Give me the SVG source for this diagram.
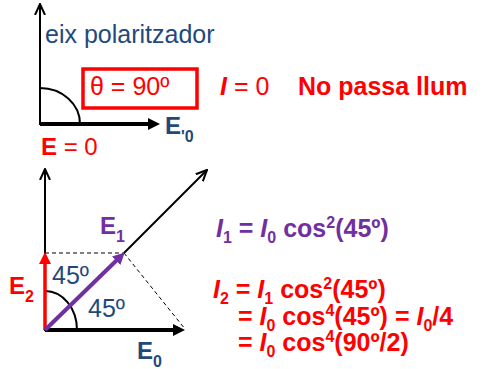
<svg xmlns="http://www.w3.org/2000/svg" width="493" height="369" viewBox="0 0 493 369">
<style>
text{font-family:"Liberation Sans",Arial,sans-serif;font-size:24px}
.blue{fill:#1F497D}
.red{fill:#FF0000}
.pur{fill:#7030A0}
.b{font-weight:bold}
.bi{font-weight:bold;font-style:italic}
.sub{font-size:16px}
.eq{font-size:25px;font-weight:bold}
.ax{stroke:#000;stroke-width:2;fill:none}
.dash{stroke:#000;stroke-width:1;stroke-dasharray:4 3;fill:none}
</style>
<defs>
<marker id="open" viewBox="0 0 12 12" refX="11" refY="6" markerWidth="12" markerHeight="12" markerUnits="userSpaceOnUse" orient="auto">
<path d="M0,1 L11,6 L0,11" fill="none" stroke="#000" stroke-width="2"/>
</marker>
<marker id="blk" viewBox="0 0 12 12" refX="4" refY="6" markerWidth="12" markerHeight="12" markerUnits="userSpaceOnUse" orient="auto">
<path d="M0,0 L12,6 L0,12 z" fill="#000"/>
</marker>
<marker id="redh" viewBox="0 0 12 12" refX="4" refY="6" markerWidth="12" markerHeight="12" markerUnits="userSpaceOnUse" orient="auto">
<path d="M0,0 L12,6 L0,12 z" fill="#FF0000"/>
</marker>
<marker id="purh" viewBox="0 0 12 12" refX="4" refY="6" markerWidth="12" markerHeight="12" markerUnits="userSpaceOnUse" orient="auto">
<path d="M0,0 L12,6 L0,12 z" fill="#7030A0"/>
</marker>
</defs>
<g id="connectors">
<line class="ax" x1="40" y1="125" x2="40" y2="4" marker-end="url(#open)"/>
<path class="ax" stroke-width="1.2" d="M40,88 A40,36 0 0 1 80,124"/>
<line x1="40" y1="124" x2="152" y2="124" stroke="#000" stroke-width="4" marker-end="url(#blk)"/>
<line class="ax" x1="45" y1="331" x2="45" y2="169" marker-end="url(#open)"/>
<line class="ax" x1="124" y1="253" x2="207" y2="170" marker-end="url(#open)"/>
<line class="dash" x1="45" y1="253" x2="124" y2="253"/>
<line class="dash" x1="124" y1="253" x2="185" y2="329"/>
<path class="ax" stroke-width="1.2" d="M45,291 A32,39 0 0 1 77,330"/>
<line x1="45" y1="330" x2="177" y2="330" stroke="#000" stroke-width="4" marker-end="url(#blk)"/>
<line x1="45" y1="330" x2="45" y2="260" stroke="#FF0000" stroke-width="3.5" marker-end="url(#redh)"/>
<line x1="45" y1="330" x2="119" y2="258" stroke="#7030A0" stroke-width="4" marker-end="url(#purh)"/>
</g>
<g id="top-labels">
<text class="blue" x="45" y="43" style="font-size:25px">eix polaritzador</text>
<g id="theta-box">
<rect x="83" y="69" width="114" height="39" fill="none" stroke="#FF0000" stroke-width="3.5"/>
<text class="red" x="90" y="95" style="font-size:25px">θ = 90º</text>
</g>
<text class="red" x="220" y="95" style="font-size:25px"><tspan class="bi">I</tspan> = 0</text>
<text class="red b" x="298" y="95" style="font-size:25px">No passa llum</text>
<text class="blue b" x="165" y="134">E<tspan class="sub" dy="8">'0</tspan></text>
<text class="red" x="41" y="155"><tspan class="b">E</tspan> = 0</text>
</g>
<g id="bottom-labels">
<text class="pur b" x="100" y="234">E<tspan class="sub" dy="8">1</tspan></text>
<text class="red b" x="9" y="294">E<tspan class="sub" dy="8">2</tspan></text>
<text class="blue" x="52" y="284" style="font-size:25px">45º</text>
<text class="blue" x="88" y="317" style="font-size:25px">45º</text>
<text class="blue b" x="137" y="359">E<tspan class="sub" dy="8">0</tspan></text>
</g>
<g id="equations">
<text class="pur eq" x="216" y="237"><tspan font-style="italic">I</tspan><tspan class="sub" dy="6">1</tspan><tspan dy="-6"> = </tspan><tspan font-style="italic">I</tspan><tspan class="sub" dy="6">0</tspan><tspan dy="-6"> cos</tspan><tspan class="sub" dy="-9">2</tspan><tspan dy="9">(45º)</tspan></text>
<text class="red eq" x="213" y="298"><tspan font-style="italic">I</tspan><tspan class="sub" dy="6">2</tspan><tspan dy="-6"> = </tspan><tspan font-style="italic">I</tspan><tspan class="sub" dy="6">1</tspan><tspan dy="-6"> cos</tspan><tspan class="sub" dy="-9">2</tspan><tspan dy="9">(45º)</tspan></text>
<text class="red eq" x="238" y="325">= <tspan font-style="italic">I</tspan><tspan class="sub" dy="6">0</tspan><tspan dy="-6"> cos</tspan><tspan class="sub" dy="-9">4</tspan><tspan dy="9">(45º) = </tspan><tspan font-style="italic">I</tspan><tspan class="sub" dy="6">0</tspan><tspan dy="-6">/4</tspan></text>
<text class="red eq" x="238" y="351">= <tspan font-style="italic">I</tspan><tspan class="sub" dy="6">0</tspan><tspan dy="-6"> cos</tspan><tspan class="sub" dy="-9">4</tspan><tspan dy="9">(90º/2)</tspan></text>
</g>
</svg>
